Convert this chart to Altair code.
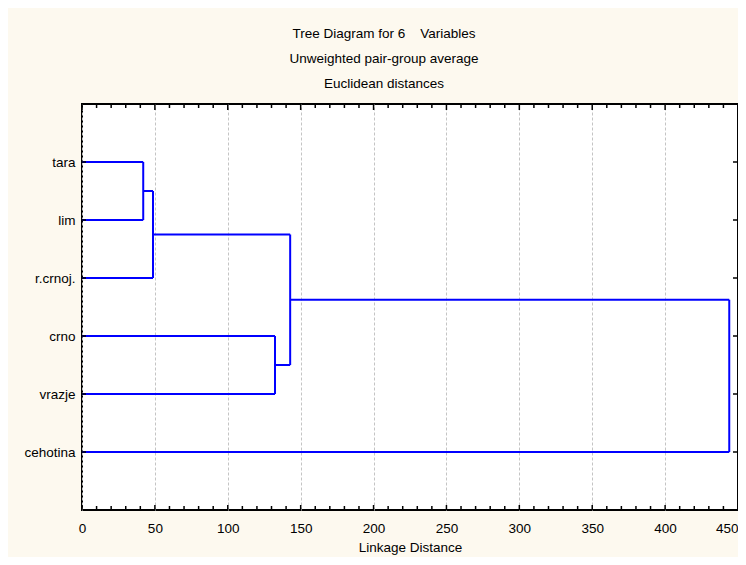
import json
import altair as alt
import pandas as pd

# ---- data ----
labels = ["tara", "lim", "r.crnoj.", "crno", "vrazje", "cehotina"]
# merge k joins merge_left[k] and merge_right[k] at merge_height[k]; "m<k>" is the cluster of merge k
merge_left = ["tara", "m0", "crno", "m1", "m3"]
merge_right = ["lim", "r.crnoj.", "vrazje", "m2", "cehotina"]
merge_height = [42.0, 48.7, 132.4, 142.8, 444.0]
major_ticks = [0, 50, 100, 150, 200, 250, 300, 350, 400, 450]
minor_ticks = list(range(0, 451, 10))
title_lines = ["Tree Diagram for 6\u00a0\u00a0\u00a0 Variables",
               "Unweighted pair-group average",
               "Euclidean distances"]
x_title = "Linkage Distance"

FONT = "Liberation Sans"
FS = 13.5
W, H = 656, 406

# ---- build dendrogram segments ----
pos = {name: i + 1 for i, name in enumerate(labels)}
hgt = {name: 0.0 for name in labels}
segs = []
for k, (l, r, h) in enumerate(zip(merge_left, merge_right, merge_height)):
    yl, yr = pos[l], pos[r]
    segs.append({"x": hgt[l], "x2": h, "y": yl, "y2": yl})
    segs.append({"x": hgt[r], "x2": h, "y": yr, "y2": yr})
    segs.append({"x": h, "x2": h, "y": yl, "y2": yr})
    pos[f"m{k}"] = (yl + yr) / 2
    hgt[f"m{k}"] = h
seg_df = pd.DataFrame(segs)

xscale = alt.Scale(domain=[0, 450], nice=False, zero=False)
yscale = alt.Scale(domain=[0, 7], reverse=True, nice=False, zero=False)

last = major_ticks[-1]
xaxis = alt.Axis(values=major_ticks, grid=True, gridColor="#c4c4c4", gridDash=[3, 2],
                 gridWidth=1, ticks=False, domain=False, labelFlush=False,
                 labelAlign=alt.ExprRef(expr=f"datum.value == {last} ? 'right' : 'center'"),
                 labelPadding=11, labelFont=FONT, labelFontSize=FS, labelColor="black",
                 title=x_title, titleFont=FONT, titleFontSize=FS, titleFontWeight="normal",
                 titleColor="black", titlePadding=6)
label_expr = json.dumps(labels) + "[datum.value - 1]"
yaxis = alt.Axis(values=list(range(1, len(labels) + 1)), labelExpr=label_expr, grid=False,
                 ticks=False, domain=False, labelPadding=7, labelFont=FONT,
                 labelFontSize=FS, labelColor="black", title=None)


def X(field):
    return alt.X(field, type="quantitative", scale=xscale, axis=xaxis)


def Y(field):
    return alt.Y(field, type="quantitative", scale=yscale, axis=yaxis)


tree = alt.Chart(seg_df).mark_rule(color="#0000ff", strokeWidth=2).encode(
    x=X("x"), x2="x2", y=Y("y"), y2="y2"
)

minor_df = pd.DataFrame({"x": [t for t in minor_ticks if t % 50 != 0]})
major_df = pd.DataFrame({"x": major_ticks})
cat_df = pd.DataFrame({"y": list(range(1, len(labels) + 1))})

tick_style = dict(color="black", strokeWidth=1.5)
top_minor = alt.Chart(minor_df).mark_rule(**tick_style).encode(
    x=X("x"), y=alt.value(0), y2=alt.value(4))
top_major = alt.Chart(major_df).mark_rule(**tick_style).encode(
    x=X("x"), y=alt.value(0), y2=alt.value(6))
bot_minor = alt.Chart(minor_df).mark_rule(**tick_style).encode(
    x=X("x"), y=alt.value(H), y2=alt.value(H - 4))
bot_major = alt.Chart(major_df).mark_rule(**tick_style).encode(
    x=X("x"), y=alt.value(H), y2=alt.value(H - 5))
left_t = alt.Chart(cat_df).mark_rule(**tick_style).encode(
    y=Y("y"), x=alt.value(0), x2=alt.value(4))
right_t = alt.Chart(cat_df).mark_rule(**tick_style).encode(
    y=Y("y"), x=alt.value(W), x2=alt.value(W - 5))

chart = alt.layer(tree, top_minor, top_major, bot_minor, bot_major, left_t, right_t).properties(
    width=W, height=H,
    autosize=alt.AutoSizeParams(type="none"),
    padding={"left": 74, "top": 96, "right": 0, "bottom": 47},
    background="#fdf9ef",
    title=alt.TitleParams(text=title_lines, font=FONT, fontSize=FS, fontWeight="normal",
                          color="black", lineHeight=25, offset=13, dx=-26, anchor="middle"),
).configure_view(stroke="black", strokeWidth=2, fill="white")

chart.save("out.html", embed_options={"renderer": "svg", "actions": False})
